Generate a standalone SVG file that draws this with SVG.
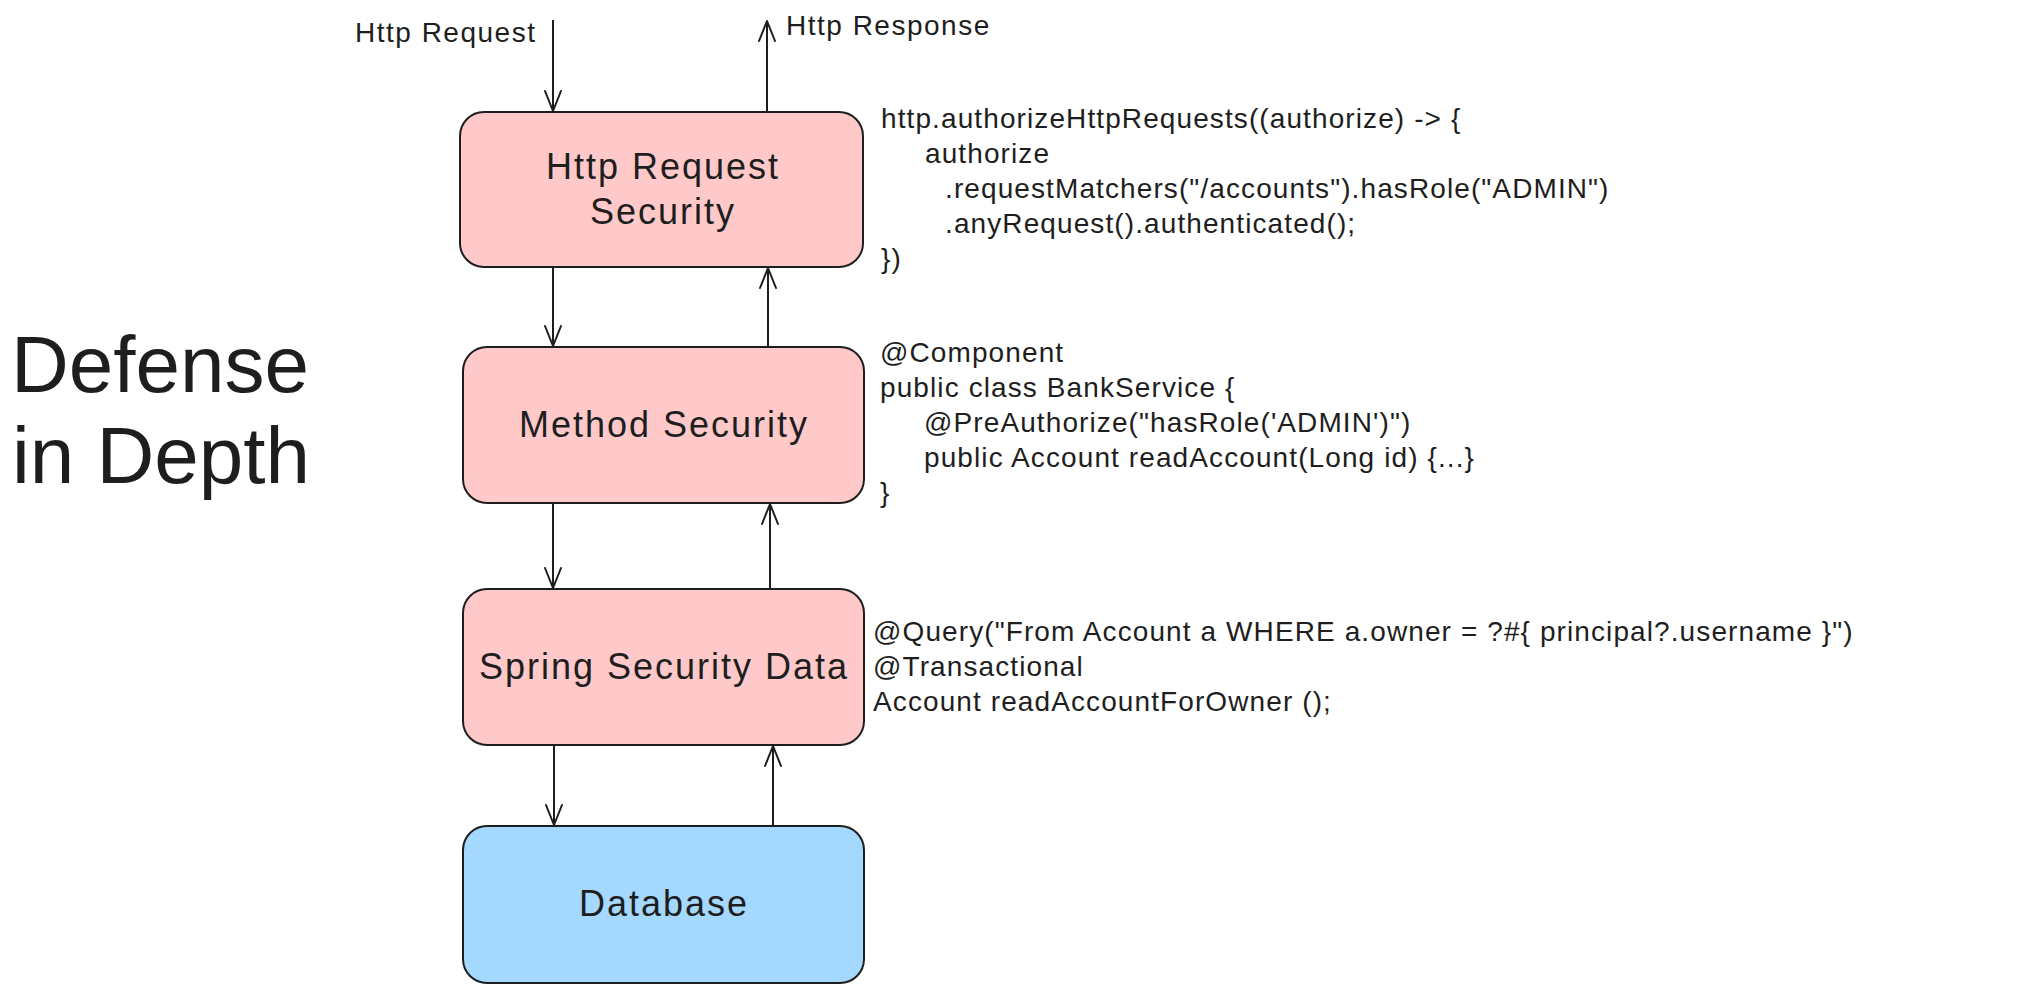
<svg xmlns="http://www.w3.org/2000/svg" width="2044" height="992" viewBox="0 0 2044 992">
  <style>
    text { font-family: "Liberation Sans", Arial, sans-serif; fill: #1e1e1e; }
    .box { stroke: #1e1e1e; stroke-width: 2; }
    .pink { fill: #ffc9c9; }
    .blue { fill: #a5d8ff; }
    .label { font-size: 36px; letter-spacing: 2px; text-anchor: middle; }
    .code { font-size: 28px; letter-spacing: 1.1px; }
    .small { font-size: 28px; letter-spacing: 1.5px; }
    .title { font-size: 80px; }
    .conn line { stroke: #1e1e1e; stroke-width: 2; fill: none; marker-end: url(#arrow); }
  </style>
  <defs>
    <marker id="arrow" viewBox="-22 -10 24 20" refX="0" refY="0" markerWidth="24" markerHeight="20" markerUnits="userSpaceOnUse" orient="auto">
      <path d="M -20 -8 L 0 0 L -20 8" fill="none" stroke="#1e1e1e" stroke-width="2" stroke-linecap="round" stroke-linejoin="round"/>
    </marker>
  </defs>
  <rect width="2044" height="992" fill="#ffffff"/>

  <g id="title">
    <text class="title" x="11" y="392">Defense</text>
    <text class="title" x="12" y="483">in Depth</text>
  </g>

  <g id="io-labels">
    <text class="small" x="355" y="42">Http Request</text>
    <text class="small" x="786" y="35">Http Response</text>
  </g>

  <g id="http-request-security">
    <rect class="box pink" x="460" y="112" width="403" height="155" rx="24"/>
    <text class="label" x="663" y="179">Http Request</text>
    <text class="label" x="663" y="224">Security</text>
  </g>

  <g id="method-security">
    <rect class="box pink" x="463" y="347" width="401" height="156" rx="24"/>
    <text class="label" x="664" y="437">Method Security</text>
  </g>

  <g id="spring-security-data">
    <rect class="box pink" x="463" y="589" width="401" height="156" rx="24"/>
    <text class="label" x="664" y="679">Spring Security Data</text>
  </g>

  <g id="database">
    <rect class="box blue" x="463" y="826" width="401" height="157" rx="24"/>
    <text class="label" x="664" y="916">Database</text>
  </g>

  <g id="code-http">
    <text class="code" x="881" y="128">http.authorizeHttpRequests((authorize) -&gt; {</text>
    <text class="code" x="925" y="163">authorize</text>
    <text class="code" x="945" y="198">.requestMatchers("/accounts").hasRole("ADMIN")</text>
    <text class="code" x="945" y="233">.anyRequest().authenticated();</text>
    <text class="code" x="881" y="268">})</text>
  </g>

  <g id="code-method">
    <text class="code" x="880" y="362">@Component</text>
    <text class="code" x="880" y="397">public class BankService {</text>
    <text class="code" x="924" y="432">@PreAuthorize("hasRole('ADMIN')")</text>
    <text class="code" x="924" y="467">public Account readAccount(Long id) {...}</text>
    <text class="code" x="880" y="502">}</text>
  </g>

  <g id="code-data">
    <text class="code" x="873" y="641">@Query("From Account a WHERE a.owner = ?#{ principal?.username }")</text>
    <text class="code" x="873" y="676">@Transactional</text>
    <text class="code" x="873" y="711">Account readAccountForOwner ();</text>
  </g>

  <g id="connectors" class="conn">
    <line x1="553" y1="20" x2="553" y2="111"/>
    <line x1="767" y1="111" x2="767" y2="21"/>
    <line x1="553" y1="268" x2="553" y2="346"/>
    <line x1="768" y1="346" x2="768" y2="268"/>
    <line x1="553" y1="504" x2="553" y2="588"/>
    <line x1="770" y1="588" x2="770" y2="504"/>
    <line x1="554" y1="746" x2="554" y2="825"/>
    <line x1="773" y1="825" x2="773" y2="746"/>
  </g>
</svg>
